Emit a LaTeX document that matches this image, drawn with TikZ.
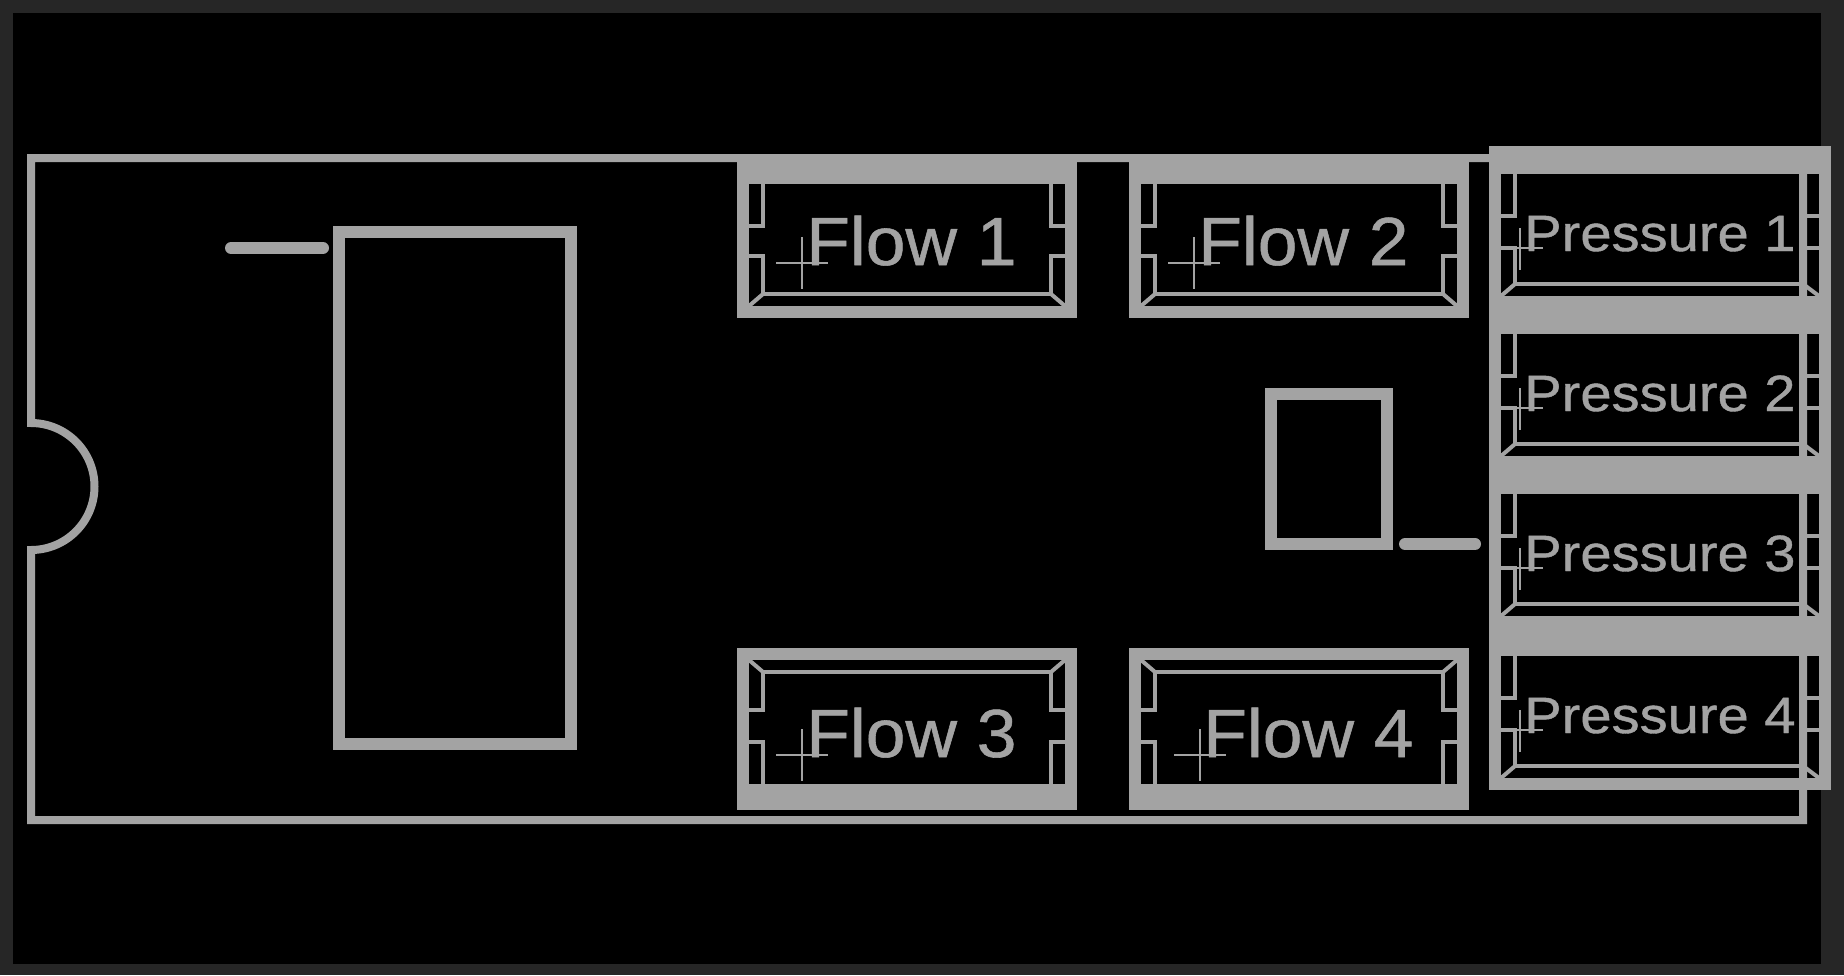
\documentclass[tikz,border=0pt]{standalone}
\usepackage{fontspec}
\setmainfont{Liberation Sans}[FakeStretch=1.05,FakeBold=0.8]
\newfontfamily\pressfont{Liberation Sans}[FakeStretch=1.1,FakeBold=0.8]
\definecolor{partgray}{HTML}{A3A3A3}
\definecolor{framegray}{HTML}{262626}
\tikzset{
  board/.style={draw=partgray,line width=6pt},
  part/.style={draw=partgray,line width=9pt},
  lead/.style={draw=partgray,line width=9pt,line cap=round},
  detail/.style={draw=partgray,line width=3pt},
  crosshair/.style={draw=partgray,line width=1.5pt},
  flowlabel/.style={text=partgray,inner sep=0pt,anchor=base west,font=\fontsize{51}{51}\selectfont},
  presslabel/.style={text=partgray,inner sep=0pt,anchor=base west,font=\pressfont\fontsize{38.25}{38.25}\selectfont}
}
\begin{document}
\begin{tikzpicture}[x=0.75pt,y=-0.75pt]
    \useasboundingbox (0,0) rectangle (1844,975);
    \fill[framegray] (0,0) rectangle (1844,975);
    \fill[black] (13,13) rectangle (1821,964);
    % Board outline with the notch
    \draw[board] (31,423) arc[start angle=-90,end angle=90,radius=63.5] -- (31,820) -- (1803,820) -- (1803,158) -- (31,158) -- cycle;
    % Chip and capacitor with their pin-1 bars
    \draw[part] (339,232) rectangle (571,744);
    \draw[lead] (231,248) -- (323,248);
    \draw[part] (1271,394) rectangle (1387,544);
    \draw[lead] (1405,544) -- (1475,544);
    % Upper flow sensors (wide band on top)
    \foreach \i/\dx/\cx/\tx in {1/0/802/810,2/392/1194/1202} {
      \draw[part] (\dx+743,165) rectangle (\dx+1071,312);
      \fill[partgray] (\dx+737,159) rectangle (\dx+1077,184);
      \draw[detail] (\dx+749,226) -| (\dx+763,184);
      \draw[detail] (\dx+749,256) -| (\dx+763,294) -- (\dx+1051,294) |- (\dx+1065,256);
      \draw[detail] (\dx+1065,226) -| (\dx+1051,184);
      \draw[detail] (\dx+763,294) -- (\dx+749,306);
      \draw[detail] (\dx+1051,294) -- (\dx+1065,306);
      \draw[crosshair] (\cx-26,263) -- (\cx+26,263);
      \draw[crosshair] (\cx,237) -- (\cx,289);
      \node[flowlabel] (flow\i) at (\tx-4,265) {Flow \i};
    }
    % Lower flow sensors (wide band at the bottom)
    \foreach \i/\dx/\cx/\tx in {3/0/802/810,4/392/1200/1207} {
      \draw[part] (\dx+743,654) rectangle (\dx+1071,804);
      \fill[partgray] (\dx+737,784) rectangle (\dx+1077,810);
      \draw[detail] (\dx+749,742) -| (\dx+763,784);
      \draw[detail] (\dx+749,710) -| (\dx+763,672) -- (\dx+1051,672) |- (\dx+1065,710);
      \draw[detail] (\dx+1065,742) -| (\dx+1051,784);
      \draw[detail] (\dx+763,672) -- (\dx+749,660);
      \draw[detail] (\dx+1051,672) -- (\dx+1065,660);
      \draw[crosshair] (\cx-26,755) -- (\cx+26,755);
      \draw[crosshair] (\cx,729) -- (\cx,781);
      \node[flowlabel] (flow\i) at (\tx-4,757) {Flow \i};
    }
    % Pressure sensors on the right edge
    \foreach \i/\dy in {1/0,2/160,3/320,4/482} {
      \draw[part] (1495,\dy+152) rectangle (1825,\dy+302);
      \fill[partgray] (1489,\dy+146) rectangle (1831,\dy+174);
      \draw[detail] (1501,\dy+216) -| (1515,\dy+174);
      \draw[detail] (1501,\dy+248) -| (1515,\dy+284) -- (1801,\dy+284) -- (1801,\dy+174);
      \draw[detail] (1803,\dy+216) -- (1819,\dy+216);
      \draw[detail] (1803,\dy+248) -- (1819,\dy+248);
      \draw[detail] (1515,\dy+284) -- (1501,\dy+296);
      \draw[detail] (1803,\dy+284) -- (1819,\dy+296);
      \draw[crosshair] (1498,\dy+248) -- (1543,\dy+248);
      \draw[crosshair] (1520,\dy+228) -- (1520,\dy+270);
      \node[presslabel] (press\i) at (1524,\dy+251) {Pressure \i};
    }
\end{tikzpicture}
\end{document}
